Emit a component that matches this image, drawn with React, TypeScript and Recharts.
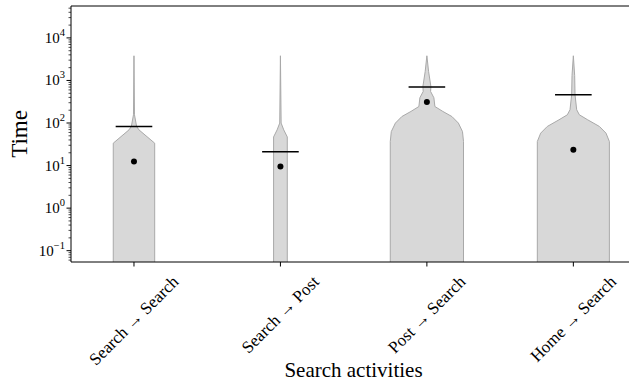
import { ComposedChart, Area, XAxis, YAxis, ReferenceLine, ReferenceDot, Label } from "recharts"

const activities = ["Search → Search", "Search → Post", "Post → Search", "Home → Search"]

// violin outlines, read top to bottom: time level and half-width (in category units)
const levels1 = [3800, 156, 83, 69, 33.6, 0.05]
const half1 = [0, 0.0034, 0.018, 0.034, 0.1415, 0.1415]

const levels2 = [3800, 99.6, 69, 47, 0.05]
const half2 = [0, 0.0048, 0.0226, 0.0468, 0.0468]

const levels3 = [3800, 1630, 723, 551, 392, 244, 187, 142, 99.6, 63, 36.7, 0.05]
const half3 = [0, 0.0116, 0.0273, 0.0253, 0.0478, 0.0547, 0.109, 0.171, 0.215, 0.243, 0.25, 0.25]

const levels4 = [3800, 1310, 461, 205, 156, 119, 83, 57.8, 36.7, 0.05]
const half4 = [0, 0.009, 0.0116, 0.0228, 0.041, 0.098, 0.178, 0.223, 0.246, 0.246]

const means = [83, 21, 700, 460]
const medians = [12.4, 9.5, 310, 23.5]

const yDomain = [0.0542, 56200]
const xDomain = [-0.43, 3.38]

const CHART_W = 629
const CHART_H = 381
const Y_AXIS_W = 71

const yTicks: number[] = []
for (let d = -2; d <= 4; d++) {
  for (let m = 1; m <= 9; m++) {
    const v = m * Math.pow(10, d)
    if (v >= yDomain[0] && v <= yDomain[1]) yTicks.push(v)
  }
}
// domain top, used to draw the top spine
yTicks.push(yDomain[1])

const violins = [
  [levels1, half1],
  [levels2, half2],
  [levels3, half3],
  [levels4, half4],
].map(([lv, hw], i) => lv.map((t, k) => ({ t, span: [i - hw[k], i + hw[k]] })))

const FONT = "'Liberation Serif', 'DejaVu Serif', serif"

let ctx: CanvasRenderingContext2D | null = null
function textWidth(s: string, size: number) {
  if (!ctx) ctx = document.createElement("canvas").getContext("2d")
  if (!ctx) return s.length * size * 0.5
  ctx.font = `${size}px ${FONT}`
  return ctx.measureText(s).width
}

function YTick(props: any) {
  const { x, y, payload } = props
  if (payload.value === yDomain[1]) {
    // top spine across the plot area
    return <line x1={x} x2={x + CHART_W - Y_AXIS_W} y1={y} y2={y} stroke="#000" strokeWidth={1} />
  }
  const lg = Math.log10(payload.value)
  const e = Math.round(lg)
  const major = Math.abs(lg - e) < 1e-6
  return (
    <g>
      <line x1={x} x2={x - (major ? 4.5 : 2.5)} y1={y} y2={y} stroke="#000" strokeWidth={major ? 1 : 0.7} />
      {major && (
        <text x={x - 6} y={y + 5} textAnchor="end" fontFamily={FONT} fontSize={15} fill="#000">
          10
          <tspan dy={-7} fontSize={10.5}>{e < 0 ? `−${-e}` : `${e}`}</tspan>
        </text>
      )}
    </g>
  )
}

function XTick(props: any) {
  const { x, y, payload } = props
  const label = activities[payload.value]
  const size = 17
  const w = textWidth(label, size)
  const s = (w + size * 0.8) * 0.7071
  const cy = y + 12 + s / 2
  return (
    <g>
      <line x1={x} x2={x} y1={y} y2={y + 4.5} stroke="#000" strokeWidth={1} />
      <text
        x={x}
        y={cy}
        textAnchor="middle"
        dominantBaseline="central"
        transform={`rotate(-45, ${x}, ${cy})`}
        fontFamily={FONT}
        fontSize={size}
        fill="#000"
      >
        {label}
      </text>
    </g>
  )
}

export default function App() {
  return (
    <div style={{ position: "absolute", left: 0, top: 0, background: "#fff" }}>
      <ComposedChart layout="vertical" width={CHART_W} height={CHART_H} margin={{ top: 6, right: 0, bottom: 0, left: 0 }}>
        <XAxis
          type="number"
          domain={xDomain}
          allowDataOverflow
          ticks={[0, 1, 2, 3]}
          interval={0}
          height={119}
          tickSize={0}
          tickMargin={0}
          tickLine={false}
          tick={<XTick />}
          axisLine={{ stroke: "#000", strokeWidth: 1 }}
        >
          <Label value="Search activities" position="insideBottom" offset={4} dx={3.5} fontFamily={FONT} fontSize={21} fill="#000" />
        </XAxis>
        <YAxis
          type="number"
          dataKey="t"
          scale="log"
          reversed
          domain={yDomain}
          allowDataOverflow
          ticks={yTicks}
          interval={0}
          width={Y_AXIS_W}
          tickSize={0}
          tickMargin={0}
          tickLine={false}
          tick={<YTick />}
          axisLine={{ stroke: "#000", strokeWidth: 1 }}
        >
          <Label value="Time" angle={-90} position="center" dx={-17} fontFamily={FONT} fontSize={23} fill="#000" />
        </YAxis>
        {violins.map((d, i) => (
          <Area
            key={i}
            data={d}
            dataKey="span"
            type="linear"
            fill="#d8d8d8"
            fillOpacity={1}
            stroke="#a9a9a9"
            strokeWidth={1}
            dot={false}
            activeDot={false}
            isAnimationActive={false}
          />
        ))}
        {means.map((m, i) => (
          <ReferenceLine
            key={`mean${i}`}
            segment={[
              { x: i - 0.125, y: m },
              { x: i + 0.125, y: m },
            ]}
            stroke="#000"
            strokeWidth={1.5}
          />
        ))}
        {medians.map((m, i) => (
          <ReferenceDot key={`med${i}`} x={i} y={m} r={3} fill="#000" stroke="none" />
        ))}
      </ComposedChart>
    </div>
  )
}
